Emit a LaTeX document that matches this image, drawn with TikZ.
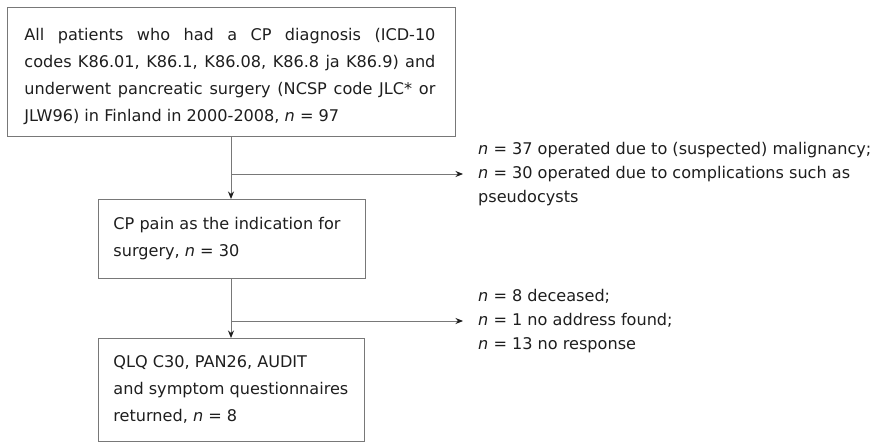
\documentclass[tikz,border=0pt]{standalone}
\usepackage{fontspec}
\setmainfont{DejaVu Sans}
\usetikzlibrary{arrows.meta}
\definecolor{lin}{RGB}{120,120,120}
\definecolor{txt}{RGB}{30,30,30}
\newcommand{\jline}[1]{\makebox[411pt][s]{#1}}
\begin{document}
\begin{tikzpicture}[x=1pt,y=-1pt,
  box/.style={draw=lin, line width=0.9pt, anchor=north west, align=left, text=txt,
    inner xsep=0pt, inner ysep=0pt},
  side/.style={anchor=west, align=left, text=txt, inner xsep=15pt, inner ysep=0pt,
    font=\fontsize{16.1}{23.7}\selectfont},
  conn/.style={draw=lin, line width=0.9pt},
  arr/.style={conn, -{Stealth[length=7.5pt,width=6pt,color=txt]}}]
\useasboundingbox (0,0) rectangle (877,443);
\node[box, minimum width=448, minimum height=129] (b1) at (7,7)
  {\hspace*{17pt}\parbox{431pt}{\fontsize{16.1}{27}\selectfont%
  \rule{0pt}{9pt}\\[-14pt]
  \jline{All patients who had a CP diagnosis (ICD-10}\\
  \jline{codes K86.01, K86.1, K86.08, K86.8 ja K86.9) and}\\
  \jline{underwent pancreatic surgery (NCSP code JLC* or}\\
  JLW96) in Finland in 2000-2008, \textit{n} = 97}};
\node[box, minimum width=267, minimum height=79] (b2) at (98,199)
  {\hspace*{15pt}\parbox{252pt}{\fontsize{16.1}{27}\selectfont%
  CP pain as the indication for\\
  surgery, \textit{n} = 30}};
\node[box, minimum width=266, minimum height=103] (b3) at (98,338)
  {\hspace*{15pt}\parbox{251pt}{\fontsize{16.1}{27}\selectfont%
  QLQ C30, PAN26, AUDIT\\
  and symptom questionnaires\\
  returned, \textit{n} = 8}};
\node[side] (r1) at (463,174)
  {\textit{n} = 37 operated due to (suspected) malignancy;\\
   \textit{n} = 30 operated due to complications such as\\
   pseudocysts};
\node[side] (r2) at (463,321)
  {\textit{n} = 8 deceased;\\
   \textit{n} = 1 no address found;\\
   \textit{n} = 13 no response};
\coordinate (j1) at (231,174);
\coordinate (j2) at (231,321);
\draw[arr] (b1.south -| j1) -- (b2.north -| j1);
\draw[arr] (j1) -- (r1.west);
\draw[arr] (b2.south -| j2) -- (b3.north -| j2);
\draw[arr] (j2) -- (r2.west);
\end{tikzpicture}
\end{document}
